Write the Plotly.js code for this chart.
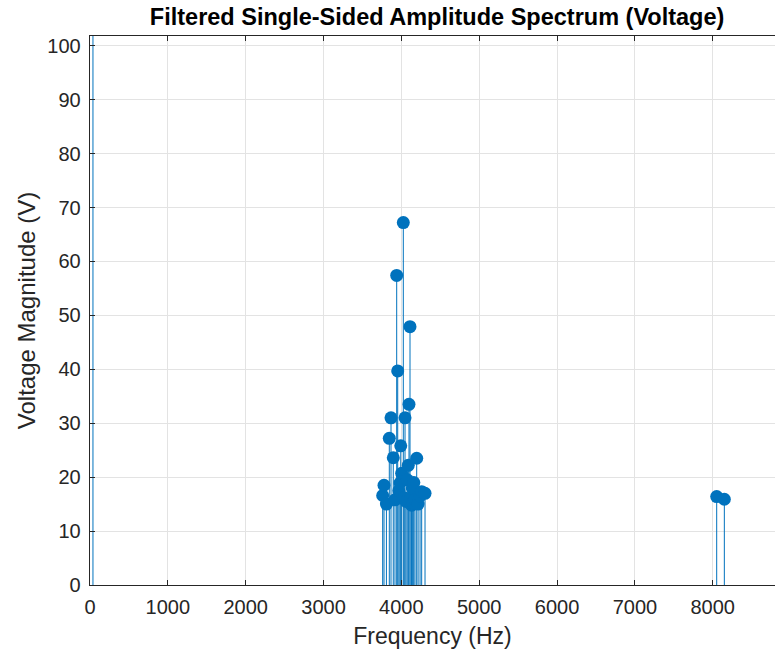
<!DOCTYPE html>
<html>
<head>
<meta charset="utf-8">
<script src="https://cdn.plot.ly/plotly-3.0.1.min.js"></script>
<style>html,body{margin:0;padding:0;background:#fff;}#chart{width:775px;height:657px;}</style>
</head>
<body>
<div id="chart"></div>
<script>
// Frequencies (Hz) of the stems
const frequency = [38, 3760, 3777, 3808, 3845, 3867, 3896, 3918, 3940, 3953, 3968, 3982, 3992, 4004,
  4025, 4036, 4047, 4060, 4075, 4089, 4098, 4111, 4124, 4132, 4140, 4150, 4160, 4175, 4197,
  4215, 4240, 4261, 4304, 8051, 8149];
// Voltage magnitudes (V)
const magnitude = [150, 16.6, 18.5, 15.0, 27.2, 31.0, 23.6, 15.8, 57.4, 39.7, 17.5, 18.9, 25.8, 20.7,
  67.2, 16.2, 31.0, 15.5, 19.5, 22.2, 33.5, 47.9, 16.0, 14.8, 18.0, 15.2, 19.0, 15.8, 23.5,
  15.0, 16.5, 17.3, 17.0, 16.4, 15.9];
const xTicks = [0, 1000, 2000, 3000, 4000, 5000, 6000, 7000, 8000];
const yTicks = [0, 10, 20, 30, 40, 50, 60, 70, 80, 90, 100];

const blue = '#0072BD';
const ink = '#262626';

const stem = {
  type: 'scatter',
  mode: 'markers',
  x: frequency,
  y: magnitude,
  marker: {color: blue, size: 13, line: {width: 0}},
  error_y: {
    type: 'data', symmetric: false,
    array: magnitude.map(() => 0),
    arrayminus: magnitude,
    width: 0, thickness: 1, color: blue
  },
  cliponaxis: true,
  hoverinfo: 'x+y'
};

const layout = {
  width: 775, height: 657,
  margin: {l: 90, r: 0, t: 36, b: 72},
  paper_bgcolor: '#fff', plot_bgcolor: '#fff',
  showlegend: false,
  font: {family: 'Liberation Sans, Arial, sans-serif', color: ink, size: 20},
  title: {
    text: '<b>Filtered Single-Sided Amplitude Spectrum (Voltage)</b>',
    font: {size: 23.5, color: '#000'},
    x: 0.564, xanchor: 'center', y: 0.974, yanchor: 'middle'
  },
  xaxis: {
    range: [0, 8800],
    tickvals: xTicks,
    ticktext: xTicks.map(String),
    showgrid: true, gridcolor: '#e3e3e3', gridwidth: 1,
    zeroline: false,
    showline: true, linecolor: ink, linewidth: 1.3, mirror: 'ticks',
    ticks: 'inside', ticklen: 5, tickcolor: ink,
    ticklabelstandoff: 4,
    tickfont: {size: 20, color: ink},
    title: {text: 'Frequency (Hz)', font: {size: 23, color: ink}, standoff: 10}
  },
  yaxis: {
    range: [0, 101.8],
    tickvals: yTicks,
    ticktext: yTicks.map(String),
    showgrid: true, gridcolor: '#e3e3e3', gridwidth: 1,
    zeroline: false,
    showline: true, linecolor: ink, linewidth: 1.3, mirror: false,
    ticks: 'inside', ticklen: 5, tickcolor: ink,
    ticklabelstandoff: 4,
    tickfont: {size: 20, color: ink},
    title: {text: 'Voltage Magnitude (V)', font: {size: 24, color: ink}, standoff: 5}
  }
};

Plotly.newPlot('chart', [stem], layout, {staticPlot: true, displayModeBar: false});
</script>
</body>
</html>
